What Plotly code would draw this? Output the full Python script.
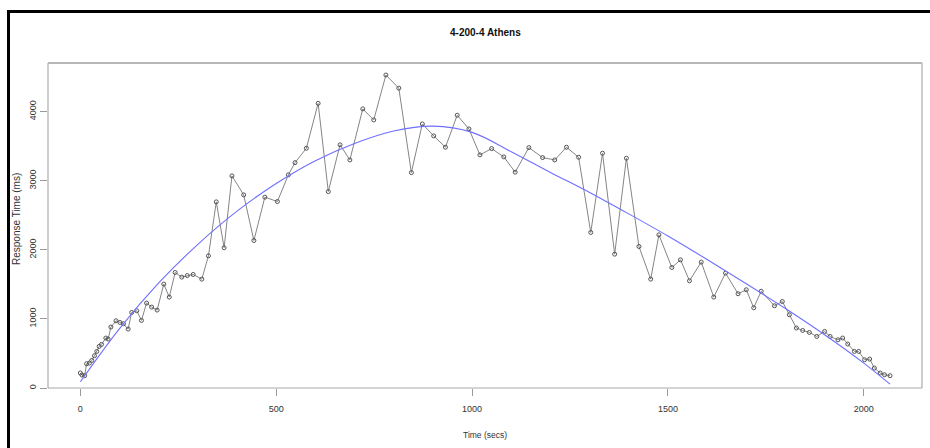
import plotly.graph_objects as go

# Observed response times: elapsed seconds and measured latency (ms)
time_secs = [0, 4, 11, 16, 23, 29, 36, 42, 48, 54, 65, 71, 78, 91, 101, 110, 122, 131, 144, 156,
             169, 182, 196, 213, 227, 242, 259, 273, 288, 310, 327, 347, 367, 387, 417, 443, 471, 503,
             531, 548, 577, 607, 633, 663, 688, 721, 749, 780, 813, 845, 873, 902, 932, 962, 992,
             1020, 1050, 1081, 1110, 1145, 1180, 1211, 1241, 1272, 1303, 1333, 1364, 1394, 1426,
             1456, 1477, 1510, 1532, 1555, 1585, 1617, 1647, 1679, 1700, 1719, 1738, 1772, 1792,
             1810, 1828, 1844, 1861, 1880, 1900, 1914, 1934, 1946, 1959, 1976, 1987, 2002, 2015,
             2027, 2042, 2053, 2067]
response_ms = [217, 188, 178, 351, 361, 399, 467, 529, 602, 631, 723, 709, 882, 973, 949, 930, 853,
               1093, 1118, 978, 1229, 1171, 1128, 1504, 1316, 1672, 1605, 1628, 1643, 1576, 1913,
               2694, 2030, 3070, 2795, 2135, 2762, 2699, 3085, 3262, 3470, 4120, 2843, 3520, 3301,
               4040, 3880, 4530, 4340, 3118, 3822, 3649, 3485, 3948, 3750, 3374, 3465, 3345, 3124,
               3480, 3335, 3301, 3485, 3340, 2251, 3398, 1937, 3326, 2048, 1576, 2217, 1744, 1855,
               1552, 1822, 1316, 1663, 1364, 1422, 1162, 1400, 1190, 1252, 1060, 868, 833, 804, 746,
               819, 746, 698, 723, 636, 529, 529, 409, 419, 289, 217, 192, 178]

# Smoothed trend of the response times
trend_secs = [0, 100, 200, 300, 400, 500, 600, 700, 800, 900, 1000, 1100, 1200, 1300, 1400,
              1500, 1600, 1700, 1800, 1900, 2000, 2067]
trend_ms = [90, 860, 1520, 2080, 2560, 2960, 3290, 3540, 3720, 3790, 3700, 3420, 3120, 2830,
            2520, 2200, 1860, 1510, 1150, 770, 360, 55]

x_ticks = [0, 500, 1000, 1500, 2000]
y_ticks = [0, 1000, 2000, 3000, 4000]

W, H = 930, 448
ML, MR, MT, MB = 48, 8, 63, 60
PW, PH = W - ML - MR, H - MT - MB


def px_x(p):
    return (p - ML) / PW


def px_y(p):
    return 1 - (p - MT) / PH


font_family = "Liberation Sans, Arial, sans-serif"

fig = go.Figure()
fig.add_trace(go.Scatter(
    x=time_secs, y=response_ms, mode="lines+markers",
    line=dict(color="#858585", width=1),
    marker=dict(symbol="circle-open", size=4, color="#555555", line=dict(width=1, color="#555555")),
    hoverinfo="skip", showlegend=False,
))
fig.add_trace(go.Scatter(
    x=trend_secs, y=trend_ms, mode="lines", line=dict(color="#6f6fff", width=1.1, shape="spline"),
    hoverinfo="skip", showlegend=False,
))

axis_common = dict(showgrid=False, zeroline=False, showline=False, ticks="outside", ticklen=7,
                   tickcolor="#9a9a9a", tickwidth=1)
fig.update_xaxes(range=[-82.6, 2148.6], tickvals=x_ticks, ticktext=[str(v) for v in x_ticks],
                 tickfont=dict(family=font_family, size=9, color="#333"), ticklabelstandoff=5,
                 **axis_common)
fig.update_yaxes(range=[0, 4704], tickvals=y_ticks, ticktext=[str(v) for v in y_ticks],
                 tickangle=-90, tickfont=dict(family=font_family, size=9, color="#333"),
                 **axis_common)

shapes = [
    # plot box
    dict(type="line", xref="paper", yref="paper", x0=0, x1=1, y0=1, y1=1, line=dict(color="#707070", width=1.2)),
    dict(type="line", xref="paper", yref="paper", x0=0, x1=0, y0=0, y1=1, line=dict(color="#bdbdbd", width=1.5)),
    dict(type="line", xref="paper", yref="paper", x0=1, x1=1, y0=0, y1=1, line=dict(color="#bdbdbd", width=1.5)),
    dict(type="line", xref="paper", yref="paper", x0=0, x1=1, y0=0, y1=0, line=dict(color="#a8a8a8", width=1.2)),
    # outer frame
    dict(type="line", xref="paper", yref="paper", x0=px_x(8.5), x1=px_x(8.5), y0=px_y(460), y1=px_y(10),
         line=dict(color="black", width=3)),
    dict(type="line", xref="paper", yref="paper", x0=px_x(7), x1=px_x(940), y0=px_y(11.5), y1=px_y(11.5),
         line=dict(color="black", width=3)),
]

annotations = [
    dict(text="<b>4-200-4 Athens</b>", xref="paper", yref="paper", x=0.5, y=px_y(33),
         showarrow=False, font=dict(family=font_family, size=10, color="#111"), xanchor="center", yanchor="middle"),
    dict(text="Time (secs)", xref="paper", yref="paper", x=0.5, y=px_y(435),
         showarrow=False, font=dict(family=font_family, size=8.5, color="#333"), xanchor="center", yanchor="middle"),
    dict(text="Response Time (ms)", xref="paper", yref="paper", x=px_x(16), y=px_y(219), textangle=-90,
         showarrow=False, font=dict(family=font_family, size=10, color="#333"), xanchor="center", yanchor="middle"),
]

fig.update_layout(
    width=W, height=H, margin=dict(l=ML, r=MR, t=MT, b=MB, pad=0),
    paper_bgcolor="white", plot_bgcolor="white",
    shapes=shapes, annotations=annotations,
)

fig.write_html("out.html", config={"displayModeBar": False})
